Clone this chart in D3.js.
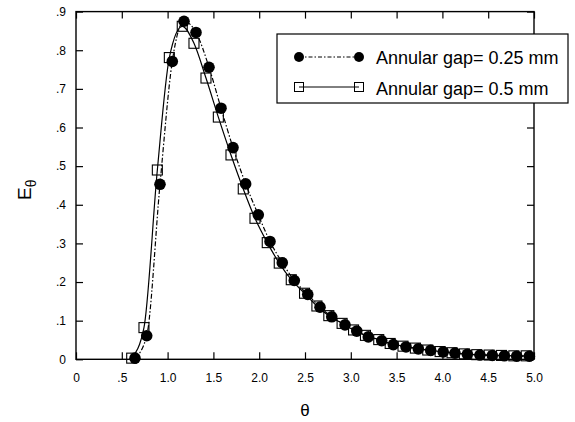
<!DOCTYPE html>
<html>
<head>
<meta charset="utf-8">
<script src="https://cdn.jsdelivr.net/npm/d3@7"></script>
<style>
  body { margin: 0; background: #fff; }
  svg { font-family: "Liberation Sans", Arial, sans-serif; }
</style>
</head>
<body>
<svg width="575" height="422"></svg>
<script>
// annular gap 0.25 mm (filled circles, dash-dot line)
var theta25 = [0.644, 0.772, 0.917, 1.051, 1.179, 1.31, 1.452, 1.583, 1.714, 1.852, 1.99, 2.118, 2.252,
               2.383, 2.53, 2.664, 2.792, 2.937, 3.065, 3.191, 3.338, 3.464, 3.603, 3.737, 3.872, 4.009,
               4.137, 4.272, 4.41, 4.545, 4.676, 4.811, 4.949];
var E25 = [0.003, 0.061, 0.453, 0.771, 0.875, 0.846, 0.756, 0.65, 0.548, 0.454, 0.374, 0.305, 0.25,
           0.204, 0.168, 0.135, 0.110, 0.089, 0.073, 0.058, 0.048, 0.038, 0.032, 0.027, 0.023, 0.019,
           0.016, 0.013, 0.011, 0.010, 0.009, 0.008, 0.008];

// annular gap 0.5 mm (open squares, solid line)
var theta5 = [0.608, 0.742, 0.888, 1.019, 1.16, 1.288, 1.419, 1.554, 1.692, 1.826, 1.954, 2.088, 2.219,
              2.35, 2.495, 2.63, 2.76, 2.905, 3.03, 3.16, 3.305, 3.43, 3.57, 3.705, 3.84, 3.975,
              4.105, 4.24, 4.375, 4.51, 4.645, 4.78, 4.915];
var E5 = [0.003, 0.082, 0.49, 0.781, 0.862, 0.818, 0.728, 0.627, 0.529, 0.441, 0.365, 0.302, 0.249,
          0.206, 0.171, 0.138, 0.113, 0.093, 0.076, 0.062, 0.051, 0.041, 0.034, 0.029, 0.024, 0.020,
          0.017, 0.014, 0.012, 0.011, 0.010, 0.009, 0.009];

var xTicks = [0, 0.5, 1.0, 1.5, 2.0, 2.5, 3.0, 3.5, 4.0, 4.5, 5.0];
var xTickLabels = ["0", ".5", "1.0", "1.5", "2.0", "2.5", "3.0", "3.5", "4.0", "4.5", "5.0"];
var yTicks = [0, 0.1, 0.2, 0.3, 0.4, 0.5, 0.6, 0.7, 0.8, 0.9];
var yTickLabels = ["0", ".1", ".2", ".3", ".4", ".5", ".6", ".7", ".8", ".9"];

var legendLabels = ["Annular gap= 0.25 mm", "Annular gap= 0.5 mm"];

var svg = d3.select("svg");
var plotLeft = 76, plotRight = 534, plotTop = 11.6, plotBottom = 359.3;

var xScale = d3.scaleLinear().domain([0, 5]).range([plotLeft, plotRight]),
    yScale = d3.scaleLinear().domain([0, 0.9]).range([plotBottom, plotTop]);

// axes, ticks pointing inward
var gx = svg.append("g")
    .attr("transform", "translate(0," + plotBottom + ")")
    .call(d3.axisBottom(xScale).tickValues(xTicks).tickSize(-7).tickPadding(14)
      .tickFormat(function(d, i) { return xTickLabels[i]; }));
var gy = svg.append("g")
    .attr("transform", "translate(" + plotLeft + ",0)")
    .call(d3.axisLeft(yScale).tickValues(yTicks).tickSize(-7).tickPadding(10)
      .tickFormat(function(d, i) { return yTickLabels[i]; }));
var gt = svg.append("g")
    .attr("transform", "translate(0," + plotTop + ")")
    .call(d3.axisTop(xScale).tickValues(xTicks).tickSize(-7).tickFormat(""));
var gr = svg.append("g")
    .attr("transform", "translate(" + plotRight + ",0)")
    .call(d3.axisRight(yScale).tickValues(yTicks).tickSize(-7).tickFormat(""));

[gx, gy, gt, gr].forEach(function(g) {
  g.select(".domain").remove();
  g.selectAll("line").attr("stroke", "#000").attr("stroke-width", 1.2);
  g.selectAll("text").attr("fill", "#000").style("font-size", "12px");
});

svg.append("rect")
  .attr("x", plotLeft).attr("y", plotTop)
  .attr("width", plotRight - plotLeft).attr("height", plotBottom - plotTop)
  .attr("fill", "none").attr("stroke", "#000").attr("stroke-width", 1.4);

// curves
svg.append("clipPath").attr("id", "plotclip")
  .append("rect").attr("x", plotLeft).attr("y", plotTop)
  .attr("width", plotRight - plotLeft).attr("height", plotBottom - plotTop);

var line = d3.line()
  .x(function(d) { return xScale(d[0]); })
  .y(function(d) { return yScale(d[1]); })
  .curve(d3.curveMonotoneX);

var data25 = theta25.map(function(t, i) { return [t, E25[i]]; });
var data5 = theta5.map(function(t, i) { return [t, E5[i]]; });

var plot = svg.append("g").attr("clip-path", "url(#plotclip)");

plot.append("path").datum(data5)
  .attr("d", line).attr("fill", "none")
  .attr("stroke", "#000").attr("stroke-width", 1.2);
plot.append("path").datum(data25)
  .attr("d", line).attr("fill", "none")
  .attr("stroke", "#000").attr("stroke-width", 1.2)
  .attr("stroke-dasharray", "5,2,1.5,2");

svg.selectAll(".sq")
  .data(data5)
  .enter().append("rect")
  .attr("class", "sq")
  .attr("x", function(d) { return xScale(d[0]) - 5; })
  .attr("y", function(d) { return yScale(d[1]) - 5; })
  .attr("width", 10).attr("height", 10)
  .attr("fill", "none").attr("stroke", "#000").attr("stroke-width", 1.1);

svg.selectAll(".dot")
  .data(data25)
  .enter().append("circle")
  .attr("class", "dot")
  .attr("cx", function(d) { return xScale(d[0]); })
  .attr("cy", function(d) { return yScale(d[1]); })
  .attr("r", 5.8)
  .attr("fill", "#000");

// legend
var lg = svg.append("g");
lg.append("rect")
  .attr("x", 277).attr("y", 34).attr("width", 291).attr("height", 69)
  .attr("fill", "#fff").attr("stroke", "#000").attr("stroke-width", 1.2);

lg.append("line").attr("x1", 299).attr("x2", 359).attr("y1", 57).attr("y2", 57)
  .attr("stroke", "#000").attr("stroke-width", 1).attr("stroke-dasharray", "4,2,1.5,2");
[299, 359].forEach(function(x) {
  lg.append("circle").attr("cx", x).attr("cy", 57).attr("r", 5).attr("fill", "#000");
});
lg.append("line").attr("x1", 299).attr("x2", 359).attr("y1", 87).attr("y2", 87)
  .attr("stroke", "#000").attr("stroke-width", 1);
[299, 359].forEach(function(x) {
  lg.append("rect").attr("x", x - 4.5).attr("y", 82.5).attr("width", 9).attr("height", 9)
    .attr("fill", "none").attr("stroke", "#000").attr("stroke-width", 1);
});
lg.selectAll(".lt")
  .data(legendLabels)
  .enter().append("text")
  .attr("class", "lt")
  .attr("x", 376)
  .attr("y", function(d, i) { return 64 + i * 30.5; })
  .style("font-size", "18px")
  .text(function(d) { return d; });

// axis titles
svg.append("text")
  .attr("x", 305).attr("y", 416)
  .attr("text-anchor", "middle")
  .style("font-size", "17px")
  .text("\u03b8");

var yt = svg.append("text")
  .attr("transform", "translate(31,200) rotate(-90)")
  .style("font-size", "19px");
yt.append("tspan").text("E");
yt.append("tspan").attr("dy", 5).style("font-size", "14px").text("\u03b8");
</script>
</body>
</html>
